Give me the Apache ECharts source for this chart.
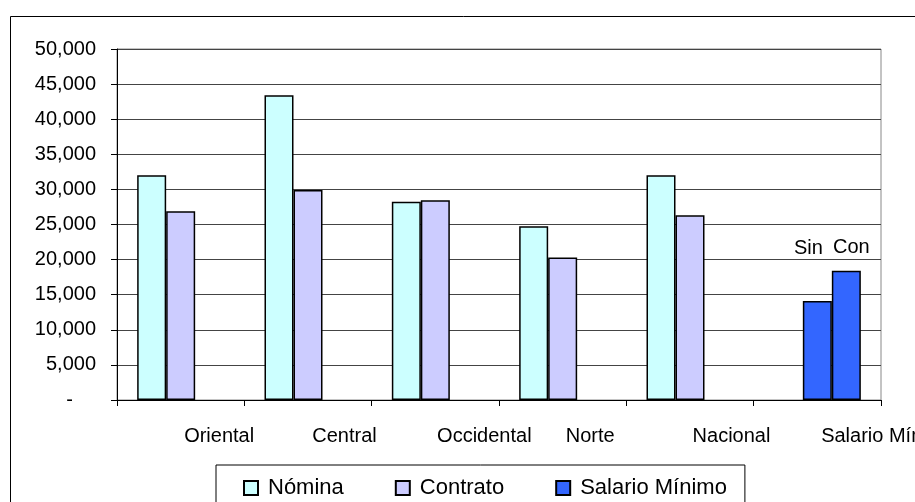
<!DOCTYPE html>
<html>
<head>
<meta charset="utf-8">
<script src="https://cdn.jsdelivr.net/npm/echarts@6/dist/echarts.min.js"></script>
<style>
  html, body { margin: 0; padding: 0; background: #fff; }
  #chart { width: 915px; height: 502px; }
</style>
</head>
<body>
<div id="chart"></div>
<script>
// Regions and salary figures
const regiones = ['Oriental', 'Central', 'Occidental', 'Norte', 'Nacional', 'Salario Mínimo'];
const nomina   = [32000, 43400, 28250, 24750, 32000, null];
const contrato = [26900, 29900, 28450, 20300, 26300, null];
const salarioSin = 14100;   // minimum wage, without benefits
const salarioCon = 18400;   // minimum wage, with benefits
const yTicks = { min: 0, max: 50000, step: 5000 };

// Left padding of each category label (shifts text to the right)
const labelPad = [77, 73, 98, 55, 83, 141];

const FONT = '"Liberation Sans", Arial, sans-serif';
const C_NOMINA = '#CCFFFF';
const C_CONTRATO = '#CCCCFF';
const C_SALARIO = '#3366FF';

const fmt = v => v.toString().replace(/\B(?=(\d{3})+(?!\d))/g, ',');

const catData = regiones.map((name, i) => ({
  value: name,
  textStyle: { padding: [0, 0, 0, labelPad[i]] }
}));

const contratoData = contrato.map(v => v);
contratoData[contratoData.length - 1] = {
  value: salarioSin,
  itemStyle: { color: C_SALARIO },
  label: { show: true, formatter: 'Sin', position: 'top', distance: 43, offset: [-9, 0],
           fontSize: 20, fontFamily: FONT, color: '#000' }
};
const salarioData = regiones.map(() => null);
salarioData[salarioData.length - 1] = {
  value: salarioCon,
  label: { show: true, formatter: 'Con', position: 'top', distance: 13, offset: [5, 0],
           fontSize: 20, fontFamily: FONT, color: '#000' }
};

const barBase = {
  type: 'bar',
  barWidth: 29,
  barGap: '0%',
  barCategoryGap: '31.6%',
  animation: false
};

const chart = echarts.init(document.getElementById('chart'), null, { renderer: 'canvas' });
chart.setOption({
  backgroundColor: '#fff',
  animation: false,
  textStyle: { fontFamily: FONT, color: '#000' },
  graphic: [{
    type: 'rect',
    silent: true,
    z: -10,
    shape: { x: 10.5, y: 16.5, width: 1200, height: 1200 },
    style: { fill: 'none', stroke: '#000', lineWidth: 1 }
  }],
  grid: {
    left: 117, top: 49, right: 34, bottom: 102,
    containLabel: false,
    outerBoundsMode: 'none',
    show: true, borderColor: '#888', borderWidth: 1, backgroundColor: 'transparent'
  },
  legend: {
    left: 216, top: 465,
    orient: 'horizontal',
    padding: [12, 18, 14, 27],
    borderColor: '#000', borderWidth: 1,
    itemWidth: 14, itemHeight: 14, itemGap: 51,
    icon: 'rect',
    textStyle: { fontSize: 22, fontFamily: FONT, color: '#000', padding: [0, 0, 0, 5] },
    data: ['Nómina', 'Contrato', 'Salario Mínimo']
  },
  xAxis: {
    type: 'category',
    data: catData,
    boundaryGap: true,
    axisLine: { lineStyle: { color: '#000', width: 1 } },
    axisTick: { show: true, interval: 0, length: 6, lineStyle: { color: '#000' } },
    axisLabel: { interval: 0, margin: 26, fontSize: 20, fontFamily: FONT, color: '#000', hideOverlap: false },
    splitLine: { show: false }
  },
  yAxis: {
    type: 'value',
    min: yTicks.min, max: yTicks.max, interval: yTicks.step,
    axisLine: { show: true, lineStyle: { color: '#000', width: 1 } },
    axisTick: { show: true, length: 6, lineStyle: { color: '#000' } },
    axisLabel: {
      margin: 21, fontSize: 20, fontFamily: FONT, color: '#000',
      formatter: v => v === 0 ? '{z|-}' : fmt(v),
      rich: { z: { fontSize: 20, fontFamily: FONT, color: '#000', padding: [0, 23, 0, 0] } }
    },
    splitLine: { show: true, lineStyle: { color: '#444', width: 1 } }
  },
  series: [
    Object.assign({}, barBase, {
      name: 'Nómina', data: nomina,
      itemStyle: { color: C_NOMINA, borderColor: '#000', borderWidth: 1.5 }
    }),
    Object.assign({}, barBase, {
      name: 'Contrato', data: contratoData,
      itemStyle: { color: C_CONTRATO, borderColor: '#000', borderWidth: 1.5 }
    }),
    Object.assign({}, barBase, {
      name: 'Salario Mínimo', data: salarioData,
      itemStyle: { color: C_SALARIO, borderColor: '#000', borderWidth: 1.5 }
    })
  ]
});
</script>
</body>
</html>
